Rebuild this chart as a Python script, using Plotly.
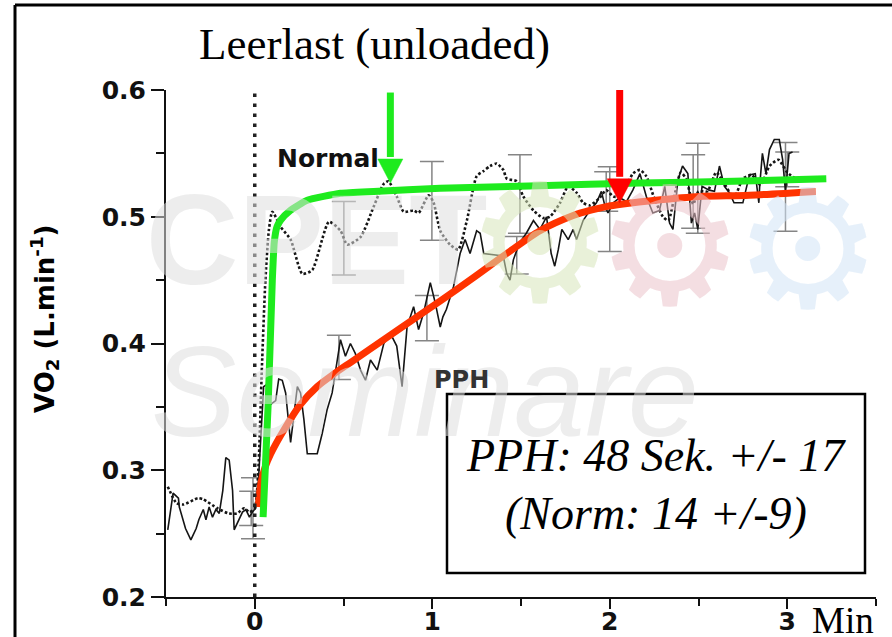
import plotly.graph_objects as go

# ---------------- data ----------------
normal_t = [-0.49, -0.44, -0.40, -0.32, -0.29, -0.21, -0.15, -0.10, -0.06, -0.03, 0.0, 0.02, 0.04, 0.06, 0.08,
            0.099, 0.146, 0.202, 0.268, 0.324, 0.418, 0.483, 0.521, 0.596, 0.670, 0.727, 0.753, 0.80, 0.839,
            0.896, 0.923, 0.98, 1.008, 1.045, 1.10, 1.146, 1.195, 1.25, 1.288, 1.326, 1.363, 1.40, 1.42,
            1.476, 1.513, 1.57, 1.625, 1.663, 1.72, 1.766, 1.813, 1.85, 1.888, 1.944, 1.98, 2.02, 2.056,
            2.094, 2.13, 2.17, 2.206, 2.25, 2.3, 2.33, 2.37, 2.4, 2.43, 2.47, 2.5, 2.55, 2.6, 2.65, 2.7,
            2.75, 2.8, 2.85, 2.9, 2.95, 3.0, 3.05, 3.1]
normal_vo2 = [0.287, 0.274, 0.273, 0.278, 0.277, 0.270, 0.266, 0.266, 0.270, 0.267, 0.27, 0.30, 0.38, 0.45, 0.49,
              0.504, 0.492, 0.482, 0.455, 0.458, 0.496, 0.489, 0.478, 0.484, 0.508, 0.526, 0.528, 0.516, 0.504,
              0.505, 0.503, 0.517, 0.511, 0.489, 0.478, 0.474, 0.497, 0.532, 0.536, 0.540, 0.542, 0.537, 0.530,
              0.528, 0.516, 0.505, 0.499, 0.500, 0.511, 0.524, 0.519, 0.511, 0.509, 0.515, 0.521, 0.516, 0.516,
              0.524, 0.534, 0.537, 0.532, 0.515, 0.500, 0.497, 0.520, 0.535, 0.530, 0.510, 0.520, 0.520, 0.535,
              0.525, 0.515, 0.530, 0.533, 0.525, 0.540, 0.545, 0.535, 0.530, 0.530]

pph_t = [-0.49, -0.46, -0.43, -0.425, -0.39, -0.36, -0.33, -0.315, -0.29, -0.275, -0.257, -0.238, -0.219, -0.20,
         -0.18, -0.163, -0.144, -0.125, -0.116, -0.097, -0.069, -0.05, -0.03, -0.013, 0.005, 0.02, 0.035, 0.05,
         0.071, 0.09, 0.118, 0.135, 0.155, 0.174, 0.202, 0.22, 0.24, 0.258, 0.277, 0.296, 0.352, 0.38, 0.408,
         0.436, 0.465, 0.483, 0.511, 0.539, 0.567, 0.596, 0.624, 0.652, 0.69, 0.727, 0.764, 0.80, 0.83, 0.858,
         0.895, 0.923, 0.951, 0.989, 1.017, 1.045, 1.06, 1.08, 1.12, 1.157, 1.185, 1.213, 1.25, 1.27, 1.29,
         1.40, 1.42, 1.438, 1.457, 1.49, 1.53, 1.57, 1.607, 1.644, 1.67, 1.69, 1.71, 1.73, 1.766, 1.794, 1.813,
         1.85, 1.888, 1.925, 1.953, 1.972, 1.99, 2.02, 2.056, 2.094, 2.13, 2.17, 2.206, 2.243, 2.28, 2.31,
         2.337, 2.356, 2.384, 2.41, 2.44, 2.46, 2.478, 2.496, 2.52, 2.56, 2.59, 2.618, 2.646, 2.674, 2.70,
         2.75, 2.787, 2.82, 2.84, 2.845, 2.86, 2.88, 2.90, 2.927, 2.955, 2.974, 2.99, 3.01, 3.03]
pph_vo2 = [0.253, 0.282, 0.278, 0.271, 0.254, 0.245, 0.254, 0.261, 0.269, 0.261, 0.271, 0.263, 0.269, 0.266,
           0.284, 0.310, 0.308, 0.284, 0.253, 0.259, 0.267, 0.269, 0.263, 0.267, 0.270, 0.290, 0.330, 0.366,
           0.368, 0.352, 0.355, 0.372, 0.371, 0.361, 0.322, 0.345, 0.366, 0.361, 0.340, 0.313, 0.313, 0.329, 0.348,
           0.361, 0.387, 0.403, 0.390, 0.400, 0.392, 0.379, 0.371, 0.387, 0.379, 0.400, 0.408, 0.398, 0.366, 0.413,
           0.429, 0.411, 0.424, 0.448, 0.432, 0.413, 0.421, 0.427, 0.445, 0.471, 0.482, 0.471, 0.489, 0.487, 0.471,
           0.469, 0.455, 0.450, 0.466, 0.479, 0.487, 0.497, 0.490, 0.500, 0.471, 0.461, 0.474, 0.490, 0.482, 0.490,
           0.482, 0.497, 0.505, 0.511, 0.520, 0.509, 0.503, 0.511, 0.515, 0.512, 0.521, 0.534, 0.516, 0.503, 0.505,
           0.524, 0.495, 0.490, 0.529, 0.540, 0.534, 0.495, 0.503, 0.490, 0.524, 0.521, 0.520, 0.540, 0.524, 0.519,
           0.511, 0.511, 0.533, 0.534, 0.511, 0.525, 0.550, 0.534, 0.553, 0.561, 0.561, 0.545, 0.520, 0.550, 0.551]

normal_err_t = [-0.02, 0.502, 0.998, 1.494, 2.0, 2.496, 2.99]
normal_err_mean = [0.270, 0.483, 0.5125, 0.518, 0.506, 0.5225, 0.5235]
normal_err_sd = [0.0135, 0.029, 0.031, 0.031, 0.0335, 0.0355, 0.035]

pph_err_t = [-0.01, 0.474, 0.97, 1.476, 1.98, 2.47, 3.0]
pph_err_mean = [0.270, 0.389, 0.420, 0.4696, 0.520, 0.520, 0.5374]
pph_err_sd = [0.024, 0.0175, 0.0178, 0.0148, 0.0156, 0.029, 0.0137]

fit_normal_t = [0.047, 0.075, 0.099, 0.11, 0.125, 0.146, 0.2, 0.296, 0.483, 0.67, 1.045, 1.6, 2.17, 2.7, 3.22]
fit_normal_vo2 = [0.263, 0.35, 0.45, 0.48, 0.492, 0.4974, 0.505, 0.513, 0.5185, 0.520, 0.5224, 0.5245, 0.5266,
                  0.528, 0.530]

fit_pph_t = [0.02, 0.035, 0.06, 0.09, 0.165, 0.258, 0.352, 0.446, 0.539, 0.727, 0.914, 1.05, 1.232, 1.42,
             1.607, 1.794, 1.888, 1.98, 2.075, 2.26, 2.505, 2.787, 3.16]
fit_pph_vo2 = [0.271, 0.29, 0.303, 0.313, 0.332, 0.352, 0.366, 0.376, 0.385, 0.403, 0.421, 0.434, 0.452, 0.471,
               0.489, 0.501, 0.505, 0.508, 0.510, 0.513, 0.516, 0.517, 0.520]

# arrows marking the time constants: time, tip value, tail value
arrow_normal = (0.764, 0.5266, 0.598)
arrow_pph = (2.056, 0.511, 0.610)

y_ticks = [0.2, 0.3, 0.4, 0.5, 0.6]
x_ticks = [0, 1, 2, 3]

# ---------------- layout helpers ----------------
W, H = 892, 637
L, R, T, B = 166, 876, 90, 597
X_RANGE = (-0.5, 3.5)
Y_RANGE = (0.2, 0.6)


def fx(p):
    return (p - L) / (R - L)


def fy(p):
    return (B - p) / (B - T)


# pixel -> data size conversions (for arrow heads)
DX_PER_PX = (X_RANGE[1] - X_RANGE[0]) / (R - L)
DY_PER_PX = (Y_RANGE[1] - Y_RANGE[0]) / (B - T)

GREEN = "#1EEB1E"
RED_FIT = "#FF3300"
RED_ARROW = "#FF0000"

fig = go.Figure()

fig.add_trace(go.Scatter(x=normal_err_t, y=normal_err_mean, mode="markers", marker=dict(size=0.1, color="rgba(0,0,0,0)"),
                         error_y=dict(type="data", array=normal_err_sd, color="#858585", thickness=1.5, width=12),
                         showlegend=False, hoverinfo="skip"))
fig.add_trace(go.Scatter(x=pph_err_t, y=pph_err_mean, mode="markers", marker=dict(size=0.1, color="rgba(0,0,0,0)"),
                         error_y=dict(type="data", array=pph_err_sd, color="#858585", thickness=1.5, width=12),
                         showlegend=False, hoverinfo="skip"))
fig.add_trace(go.Scatter(x=pph_t, y=pph_vo2, mode="lines", line=dict(color="#151515", width=1.6),
                         showlegend=False, hoverinfo="skip"))
fig.add_trace(go.Scatter(x=normal_t, y=normal_vo2, mode="lines",
                         line=dict(color="#151515", width=2.6, dash="2.6px,2.2px", shape="spline", smoothing=0.6),
                         showlegend=False, hoverinfo="skip"))
fig.add_trace(go.Scatter(x=fit_pph_t, y=fit_pph_vo2, mode="lines",
                         line=dict(color=RED_FIT, width=7, shape="spline", smoothing=0.8),
                         showlegend=False, hoverinfo="skip"))
fig.add_trace(go.Scatter(x=fit_normal_t, y=fit_normal_vo2, mode="lines",
                         line=dict(color=GREEN, width=7, shape="spline", smoothing=0.5),
                         showlegend=False, hoverinfo="skip"))

shapes = [
    # outer frame (top and left edges visible, the rest lies outside the picture)
    dict(type="line", xref="paper", yref="paper", x0=fx(15), x1=fx(892), y0=fy(5), y1=fy(5),
         line=dict(color="#000", width=3), layer="below"),
    dict(type="line", xref="paper", yref="paper", x0=fx(15), x1=fx(15), y0=fy(5), y1=fy(637),
         line=dict(color="#000", width=3), layer="below"),
    # onset line at t = 0
    dict(type="line", xref="x", yref="paper", x0=0, x1=0, y0=0, y1=1,
         line=dict(color="#222", width=3.5, dash="3.5px,6.5px"), layer="above"),
    # text box
    dict(type="rect", xref="paper", yref="paper", x0=fx(447), x1=fx(865), y0=fy(573), y1=fy(394),
         line=dict(color="#000", width=2.5), fillcolor="white", layer="above"),
]

# arrows as shapes: shaft + triangular head
HEAD_W_PX, HEAD_L_PX = 25, 24
for (t, tip, tail), col in [(arrow_normal, GREEN), (arrow_pph, RED_ARROW)]:
    base = tip + HEAD_L_PX * DY_PER_PX
    hw = HEAD_W_PX / 2 * DX_PER_PX
    shapes.append(dict(type="line", xref="x", yref="y", x0=t, x1=t, y0=tail, y1=base + 2 * DY_PER_PX,
                       line=dict(color=col, width=7), layer="above"))
    shapes.append(dict(type="path", xref="x", yref="y",
                       path=f"M {t - hw},{base} L {t + hw},{base} L {t},{tip} Z",
                       fillcolor=col, line=dict(color=col, width=0.5), layer="above"))

annotations = []

# watermark (drawn on top, semi-transparent)
for cx, cy, col in [(540, 244, "rgba(215,230,185,0.55)"), (670, 247, "rgba(235,195,202,0.55)"),
                    (808, 250, "rgba(210,228,245,0.55)")]:
    annotations.append(dict(x=fx(cx), y=fy(cy), xref="paper", yref="paper", text="\u2699", showarrow=False,
                            xanchor="center", yanchor="middle",
                            font=dict(family="DejaVu Sans", size=165, color=col)))
annotations.append(dict(x=fx(316), y=fy(240), xref="paper", yref="paper", text="CPET", showarrow=False,
                        xanchor="center", yanchor="middle",
                        font=dict(family="Liberation Sans", size=128, color="rgba(222,222,222,0.55)", weight="bold")))
annotations.append(dict(x=fx(425), y=fy(392), xref="paper", yref="paper", text="<i>Seminare</i>", showarrow=False,
                        xanchor="center", yanchor="middle",
                        font=dict(family="Liberation Sans", size=128, color="rgba(222,222,222,0.55)")))

# texts
annotations += [
    dict(x=fx(374), y=fy(44), xref="paper", yref="paper", text="Leerlast (unloaded)", showarrow=False,
         xanchor="center", yanchor="middle", font=dict(family="Liberation Serif", size=45, color="#000")),
    dict(x=fx(44), y=fy(319), xref="paper", yref="paper", text="VO<sub>2</sub> (L.min<sup>-1</sup>)",
         showarrow=False, textangle=-90, xanchor="center", yanchor="middle",
         font=dict(family="DejaVu Sans", size=26, color="#000", weight="bold")),
    dict(x=fx(328), y=fy(158), xref="paper", yref="paper", text="Normal", showarrow=False,
         xanchor="center", yanchor="middle", font=dict(family="DejaVu Sans", size=25, color="#111", weight="bold")),
    dict(x=fx(461), y=fy(380), xref="paper", yref="paper", text="PPH", showarrow=False,
         xanchor="center", yanchor="middle", font=dict(family="DejaVu Sans", size=24, color="#333", weight="bold")),
    dict(x=fx(656), y=fy(455), xref="paper", yref="paper", text="<i>PPH: 48 Sek. +/- 17</i>", showarrow=False,
         xanchor="center", yanchor="middle", font=dict(family="Liberation Serif", size=46, color="#000")),
    dict(x=fx(656), y=fy(513), xref="paper", yref="paper", text="<i>(Norm: 14 +/-9)</i>", showarrow=False,
         xanchor="center", yanchor="middle", font=dict(family="Liberation Serif", size=46, color="#000")),
    dict(x=fx(843), y=fy(620), xref="paper", yref="paper", text="Min", showarrow=False,
         xanchor="center", yanchor="middle", font=dict(family="Liberation Serif", size=37, color="#000")),
]

tickfont = dict(family="DejaVu Sans", size=25, color="#111", weight="bold")

fig.update_layout(
    width=W, height=H, autosize=False,
    margin=dict(l=L, r=W - R, t=T, b=H - B, pad=0, autoexpand=False),
    paper_bgcolor="white", plot_bgcolor="white",
    showlegend=False,
    shapes=shapes, annotations=annotations,
    xaxis=dict(range=list(X_RANGE), tickmode="array", tickvals=x_ticks, ticktext=[str(v) for v in x_ticks],
               automargin=False, ticklabelstandoff=-9,
               showgrid=False, zeroline=False, showline=True, linecolor="#111", linewidth=2,
               ticks="outside", ticklen=10, tickwidth=2, tickcolor="#111", tickfont=tickfont,
               minor=dict(tickmode="array", tickvals=[-0.5, 0.5, 1.5, 2.5, 3.5], ticks="outside", ticklen=7,
                          tickwidth=2, tickcolor="#111", showgrid=False),
               fixedrange=True),
    yaxis=dict(range=list(Y_RANGE), tickmode="array", tickvals=y_ticks, ticktext=["%.1f" % v for v in y_ticks],
               automargin=False,
               showgrid=False, zeroline=False, showline=True, linecolor="#111", linewidth=2,
               ticks="outside", ticklen=13, tickwidth=2, tickcolor="#111", tickfont=tickfont,
               minor=dict(tickmode="array", tickvals=[0.25, 0.35, 0.45, 0.55], ticks="outside", ticklen=8,
                          tickwidth=2, tickcolor="#111", showgrid=False),
               fixedrange=True),
)

fig.write_html("out.html", config={"displayModeBar": False, "responsive": False})
